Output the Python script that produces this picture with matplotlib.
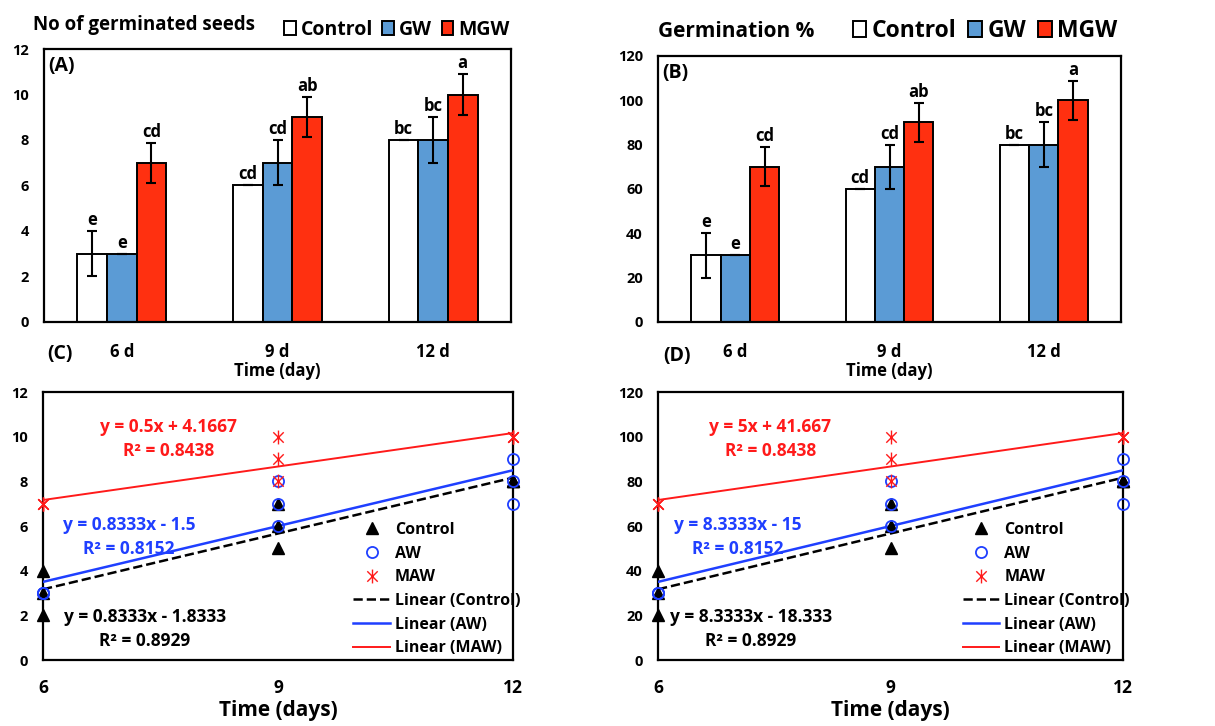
import numpy as np
import matplotlib
matplotlib.use('Agg')
from matplotlib import pyplot as plt
from matplotlib.patches import Patch
from matplotlib.path import Path

plt.rcParams['font.family'] = ['Open Sans', 'DejaVu Sans']
plt.rcParams['font.weight'] = 'bold'

# bar data (top panels)
days_lbl = ['6 d', '9 d', '12 d']
treat_names = ['Control', 'GW', 'MGW']
treat_colors = ['white', '#5b9bd5', '#ff3010']

seeds_control = [3, 6, 8]
seeds_gw = [3, 7, 8]
seeds_mgw = [7, 9, 10]
seeds_err_control = [1, 0, 0]
seeds_err_gw = [0, 1, 1]
seeds_err_mgw = [0.88, 0.88, 0.88]

pct_control = [30, 60, 80]
pct_gw = [30, 70, 80]
pct_mgw = [70, 90, 100]
pct_err_control = [10, 0, 0]
pct_err_gw = [0, 10, 10]
pct_err_mgw = [8.8, 8.8, 8.8]

letters_control = ['e', 'cd', 'bc']
letters_gw = ['e', 'cd', 'bc']
letters_mgw = ['cd', 'ab', 'a']

# scatter data (bottom panels)
time_pts = [6, 6, 6, 9, 9, 9, 12, 12, 12]
seeds_pts_control = [2, 3, 4, 5, 6, 7, 8, 8, 8]
seeds_pts_aw = [3, 3, 3, 6, 7, 8, 7, 8, 9]
seeds_pts_maw = [7, 7, 7, 8, 9, 10, 10, 10, 10]
pct_pts_control = [20, 30, 40, 50, 60, 70, 80, 80, 80]
pct_pts_aw = [30, 30, 30, 60, 70, 80, 70, 80, 90]
pct_pts_maw = [70, 70, 70, 80, 90, 100, 100, 100, 100]

eq_seeds = ['y = 0.8333x - 1.8333\nR² = 0.8929', 'y = 0.8333x - 1.5\nR² = 0.8152',
            'y = 0.5x + 4.1667\nR² = 0.8438']
eq_pct = ['y = 8.3333x - 18.333\nR² = 0.8929', 'y = 8.3333x - 15\nR² = 0.8152',
          'y = 5x + 41.667\nR² = 0.8438']

# excel style star: X plus vertical stroke
star = Path([(0, -1), (0, 1), (-0.75, -0.75), (0.75, 0.75), (-0.75, 0.75), (0.75, -0.75)],
            [Path.MOVETO, Path.LINETO] * 3)


def style_axes(ax):
    for s in ax.spines.values():
        s.set_linewidth(1.6)
        s.set_color('black')


def bar_panel(ax, vals, errs, letters, ymax, step, tag, leg_size, leg_anchor):
    x = np.arange(len(days_lbl))
    w = 0.19
    for i in range(3):
        ax.bar(x + (i - 1) * w, vals[i], w, color=treat_colors[i], edgecolor='black',
               linewidth=1.4, yerr=errs[i], capsize=3.5,
               error_kw=dict(elinewidth=1.5, capthick=1.5, ecolor='black'),
               label=treat_names[i], zorder=2)
        for j in range(3):
            ax.text(x[j] + (i - 1) * w, vals[i][j] + errs[i][j] + ymax * 0.008, letters[i][j],
                    ha='center', va='bottom', fontsize=12, fontweight='bold')
    ax.set_xlim(-0.5, 2.5)
    ax.set_ylim(0, ymax)
    ax.set_yticks(np.arange(0, ymax + 1, step))
    ax.set_xticks(x)
    ax.set_xticklabels(days_lbl)
    ax.tick_params(axis='x', length=0, pad=15, labelsize=12)
    ax.tick_params(axis='y', length=0, pad=11, labelsize=10.5)
    ax.set_xlabel('Time (day)', fontsize=12, fontweight='bold', labelpad=1)
    style_axes(ax)
    ax.text(0.01, 0.975, tag, transform=ax.transAxes, ha='left', va='top',
            fontsize=14, fontweight='bold')
    handles = [Patch(facecolor=c, edgecolor='black', linewidth=1.4) for c in treat_colors]
    ax.legend(handles, treat_names, loc='center right', bbox_to_anchor=leg_anchor,
              ncol=3, frameon=False, fontsize=leg_size, handlelength=0.6, handleheight=0.7,
              handletextpad=0.25, columnspacing=0.5, borderpad=0, borderaxespad=0)


def line_panel(ax, ys, eqs, eq_pos, ymax, step, leg_x):
    t = np.array(time_pts)
    cols = ['black', '#1f3fff', '#ff1a1a']
    ax.plot(t, ys[0], linestyle='none', marker='^', color='black', markersize=8,
            clip_on=False, zorder=4, label='Control')
    ax.plot(t, ys[1], linestyle='none', marker='o', mfc='none', mec=cols[1], mew=1.3,
            markersize=8, clip_on=False, zorder=4, label='AW')
    ax.plot(t, ys[2], linestyle='none', marker=star, color=cols[2], mew=1.0,
            markersize=10, clip_on=False, zorder=4, label='MAW')
    xx = np.array([6, 12])
    styles = [('--', 1.8), ('-', 1.8), ('-', 1.4)]
    names = ['Linear (Control)', 'Linear (AW)', 'Linear (MAW)']
    for k in range(3):
        m, b = np.polyfit(t, ys[k], 1)
        ax.plot(xx, m * xx + b, color=cols[k], linestyle=styles[k][0],
                linewidth=styles[k][1], label=names[k], zorder=3)
        ax.text(eq_pos[k][0], eq_pos[k][1], eqs[k], color=cols[k], ha='center',
                va='center', fontsize=12.5, fontweight='bold', linespacing=1.4)
    ax.set_xlim(6, 12)
    ax.set_ylim(0, ymax)
    ax.set_xticks([6, 9, 12])
    ax.set_yticks(np.arange(0, ymax + 1, step))
    ax.tick_params(axis='x', length=0, pad=14, labelsize=12.5)
    ax.tick_params(axis='y', length=0, pad=11, labelsize=10.5)
    ax.set_xlabel('Time (days)', fontsize=15, fontweight='bold', labelpad=2)
    style_axes(ax)
    ax.legend(loc='upper left', bbox_to_anchor=(leg_x, 0.515), frameon=False, fontsize=11.5,
              handlelength=2.3, handletextpad=0.3, labelspacing=0.48, borderpad=0,
              borderaxespad=0)


fig = plt.figure(figsize=(12.15, 7.26), dpi=100)
ax_a = fig.add_axes([0.0362, 0.5565, 0.3844, 0.376])
ax_b = fig.add_axes([0.5416, 0.5565, 0.381, 0.3664])
ax_c = fig.add_axes([0.0354, 0.0909, 0.3868, 0.369])
ax_d = fig.add_axes([0.5416, 0.0909, 0.3827, 0.369])

# legend centre sits ~22 px above A and ~28 px above B
bar_panel(ax_a, [seeds_control, seeds_gw, seeds_mgw],
          [seeds_err_control, seeds_err_gw, seeds_err_mgw],
          [letters_control, letters_gw, letters_mgw], 12, 2, '(A)', 14, (0.997, 1.07))
bar_panel(ax_b, [pct_control, pct_gw, pct_mgw],
          [pct_err_control, pct_err_gw, pct_err_mgw],
          [letters_control, letters_gw, letters_mgw], 120, 20, '(B)', 16.5, (0.993, 1.095))

line_panel(ax_c, [seeds_pts_control, seeds_pts_aw, seeds_pts_maw], eq_seeds,
           [(7.6, 9.91), (7.1, 5.52), (7.3, 1.38)][::-1], 12, 2, 0.66)
line_panel(ax_d, [pct_pts_control, pct_pts_aw, pct_pts_maw], eq_pct,
           [(7.45, 99.1), (7.03, 55.2), (7.2, 13.8)][::-1], 120, 20, 0.655)

fig.text(0.027, 0.966, 'No of germinated seeds', ha='left', va='center', fontsize=13.5,
         fontweight='bold')
fig.text(0.5416, 0.957, 'Germination %', ha='left', va='center', fontsize=15,
         fontweight='bold')
fig.text(0.039, 0.512, '(C)', ha='left', va='center', fontsize=14, fontweight='bold')
fig.text(0.546, 0.510, '(D)', ha='left', va='center', fontsize=14, fontweight='bold')

fig.savefig('out.png', dpi=100)
